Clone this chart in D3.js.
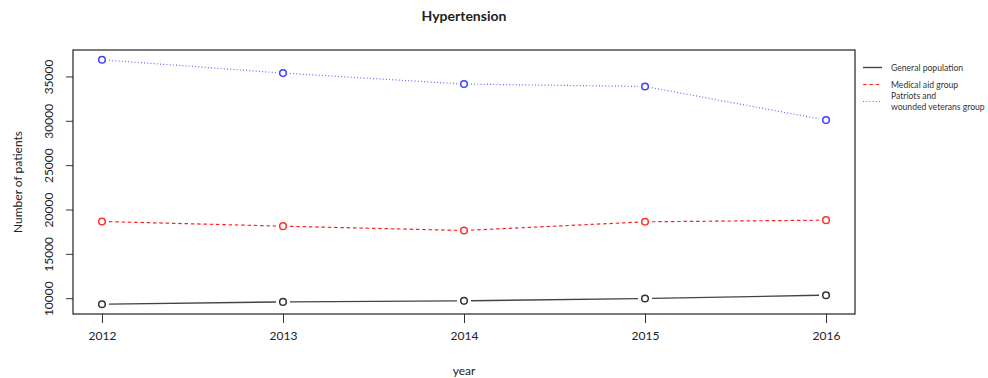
<!DOCTYPE html>
<html>
<head>
<meta charset="utf-8">
<script src="https://cdn.jsdelivr.net/npm/d3@7"></script>
<style>
    body { margin: 0; background: #fff; }
    text { font-family: Lato, "Liberation Sans", sans-serif; fill: #222; }
</style>
</head>
<body>
<div id="chart"></div>
<script>
// data
const years = [2012, 2013, 2014, 2015, 2016];
const general = [9320, 9580, 9700, 9960, 10340];
const medical = [18650, 18120, 17630, 18610, 18800];
const patriots = [36880, 35380, 34140, 33870, 30080];
const yTicks = [10000, 15000, 20000, 25000, 30000, 35000];
const seriesNames = ["General population", "Medical aid group", "Patriots and|wounded veterans group"];

let width = 988, height = 378,
    plot = { left: 73, right: 855, top: 50, bottom: 314 };

let svg = d3.select("#chart").append("svg")
    .attr("width", width)
    .attr("height", height);

// R style: 4% padding around data range
function padded(lo, hi) {
    let d = (hi - lo) * 0.04;
    return [lo - d, hi + d];
}
let allVals = general.concat(medical, patriots);

let x = d3.scaleLinear()
    .domain(padded(d3.min(years), d3.max(years)))
    .range([plot.left, plot.right]);

let y = d3.scaleLinear()
    .domain(padded(d3.min(allVals), d3.max(allVals)))
    .range([plot.bottom, plot.top]);

// title
svg.append("text")
    .attr("x", (plot.left + plot.right) / 2)
    .attr("y", 21)
    .attr("text-anchor", "middle")
    .style("font-size", "14px")
    .style("font-weight", "bold")
    .text("Hypertension");

// x axis
let xAxis = svg.append("g")
    .attr("transform", "translate(0," + plot.bottom + ")")
    .call(d3.axisBottom(x).tickValues(years).tickFormat(d3.format("d")).tickSize(9).tickPadding(8));
xAxis.select(".domain").remove();
xAxis.selectAll("line").attr("stroke", "#333");
xAxis.selectAll("text").style("font-size", "12px").style("font-family", "Lato, sans-serif").attr("fill", "#222");

// y axis, labels turned like R's default
let yAxis = svg.append("g")
    .attr("transform", "translate(" + plot.left + ",0)")
    .call(d3.axisLeft(y).tickValues(yTicks).tickFormat(d3.format("d")).tickSize(7));
yAxis.select(".domain").remove();
yAxis.selectAll("line").attr("stroke", "#333");
yAxis.selectAll("text")
    .style("font-size", "12px")
    .style("font-family", "Lato, sans-serif")
    .attr("fill", "#222")
    .attr("x", null)
    .attr("dy", null)
    .attr("text-anchor", "middle")
    .attr("transform", "translate(-20,0) rotate(-90)");

// box
svg.append("rect")
    .attr("x", plot.left)
    .attr("y", plot.top)
    .attr("width", plot.right - plot.left)
    .attr("height", plot.bottom - plot.top)
    .attr("fill", "none")
    .attr("stroke", "#222")
    .attr("stroke-width", 1.2);

// axis titles
svg.append("text")
    .attr("x", (plot.left + plot.right) / 2)
    .attr("y", 375)
    .attr("text-anchor", "middle")
    .style("font-size", "12px")
    .text("year");

svg.append("text")
    .attr("transform", "translate(22," + (plot.top + plot.bottom) / 2 + ") rotate(-90)")
    .attr("text-anchor", "middle")
    .style("font-size", "12px")
    .text("Number of patients");

let series = [
    { name: seriesNames[0], values: general, color: "#333", lineColor: "#444", dash: null, lw: 1.4 },
    { name: seriesNames[1], values: medical, color: "#ff3030", lineColor: "#ff2020", dash: "3.5,2.8", lw: 1.2 },
    { name: seriesNames[2], values: patriots, color: "#4040ff", lineColor: "#6666ff", dash: "1,2.2", lw: 1.2 }
];

// type = "b": segments broken around points
let gap = 7;
series.forEach(function (s) {
    let pts = years.map(function (yr, i) { return [x(yr), y(s.values[i])]; });
    let segs = d3.pairs(pts).map(function (p) {
        let dx = p[1][0] - p[0][0], dy = p[1][1] - p[0][1];
        let len = Math.sqrt(dx * dx + dy * dy);
        let ux = dx / len, uy = dy / len;
        return [[p[0][0] + ux * gap, p[0][1] + uy * gap], [p[1][0] - ux * gap, p[1][1] - uy * gap]];
    });
    svg.append("g").selectAll("line")
        .data(segs)
        .enter()
        .append("line")
        .attr("x1", function (d) { return d[0][0]; })
        .attr("y1", function (d) { return d[0][1]; })
        .attr("x2", function (d) { return d[1][0]; })
        .attr("y2", function (d) { return d[1][1]; })
        .attr("stroke", s.lineColor)
        .attr("stroke-width", s.lw)
        .attr("stroke-dasharray", s.dash);
    svg.append("g").selectAll("circle")
        .data(s.values)
        .enter()
        .append("circle")
        .attr("cx", function (d, i) { return x(years[i]); })
        .attr("cy", function (d) { return y(d); })
        .attr("r", 3.3)
        .attr("fill", "none")
        .attr("stroke", s.color)
        .attr("stroke-width", 1.5);
});

// legend
let legend = svg.append("g");
let legendY = [67.5, 84.5, 101.5];
series.forEach(function (s, i) {
    legend.append("line")
        .attr("x1", 863).attr("x2", 882)
        .attr("y1", legendY[i]).attr("y2", legendY[i])
        .attr("stroke", s.lineColor)
        .attr("stroke-width", s.lw)
        .attr("stroke-dasharray", s.dash);
    let lines = s.name.split("|");
    let t = legend.append("text")
        .attr("x", 891)
        .attr("y", lines.length > 1 ? legendY[i] - 5.5 + 3 : legendY[i] + 3)
        .style("font-size", "8.6px")
        .style("fill", "#333");
    lines.forEach(function (l, j) {
        t.append("tspan").attr("x", 891).attr("dy", j == 0 ? 0 : 10.5).text(l);
    });
});
</script>
</body>
</html>
